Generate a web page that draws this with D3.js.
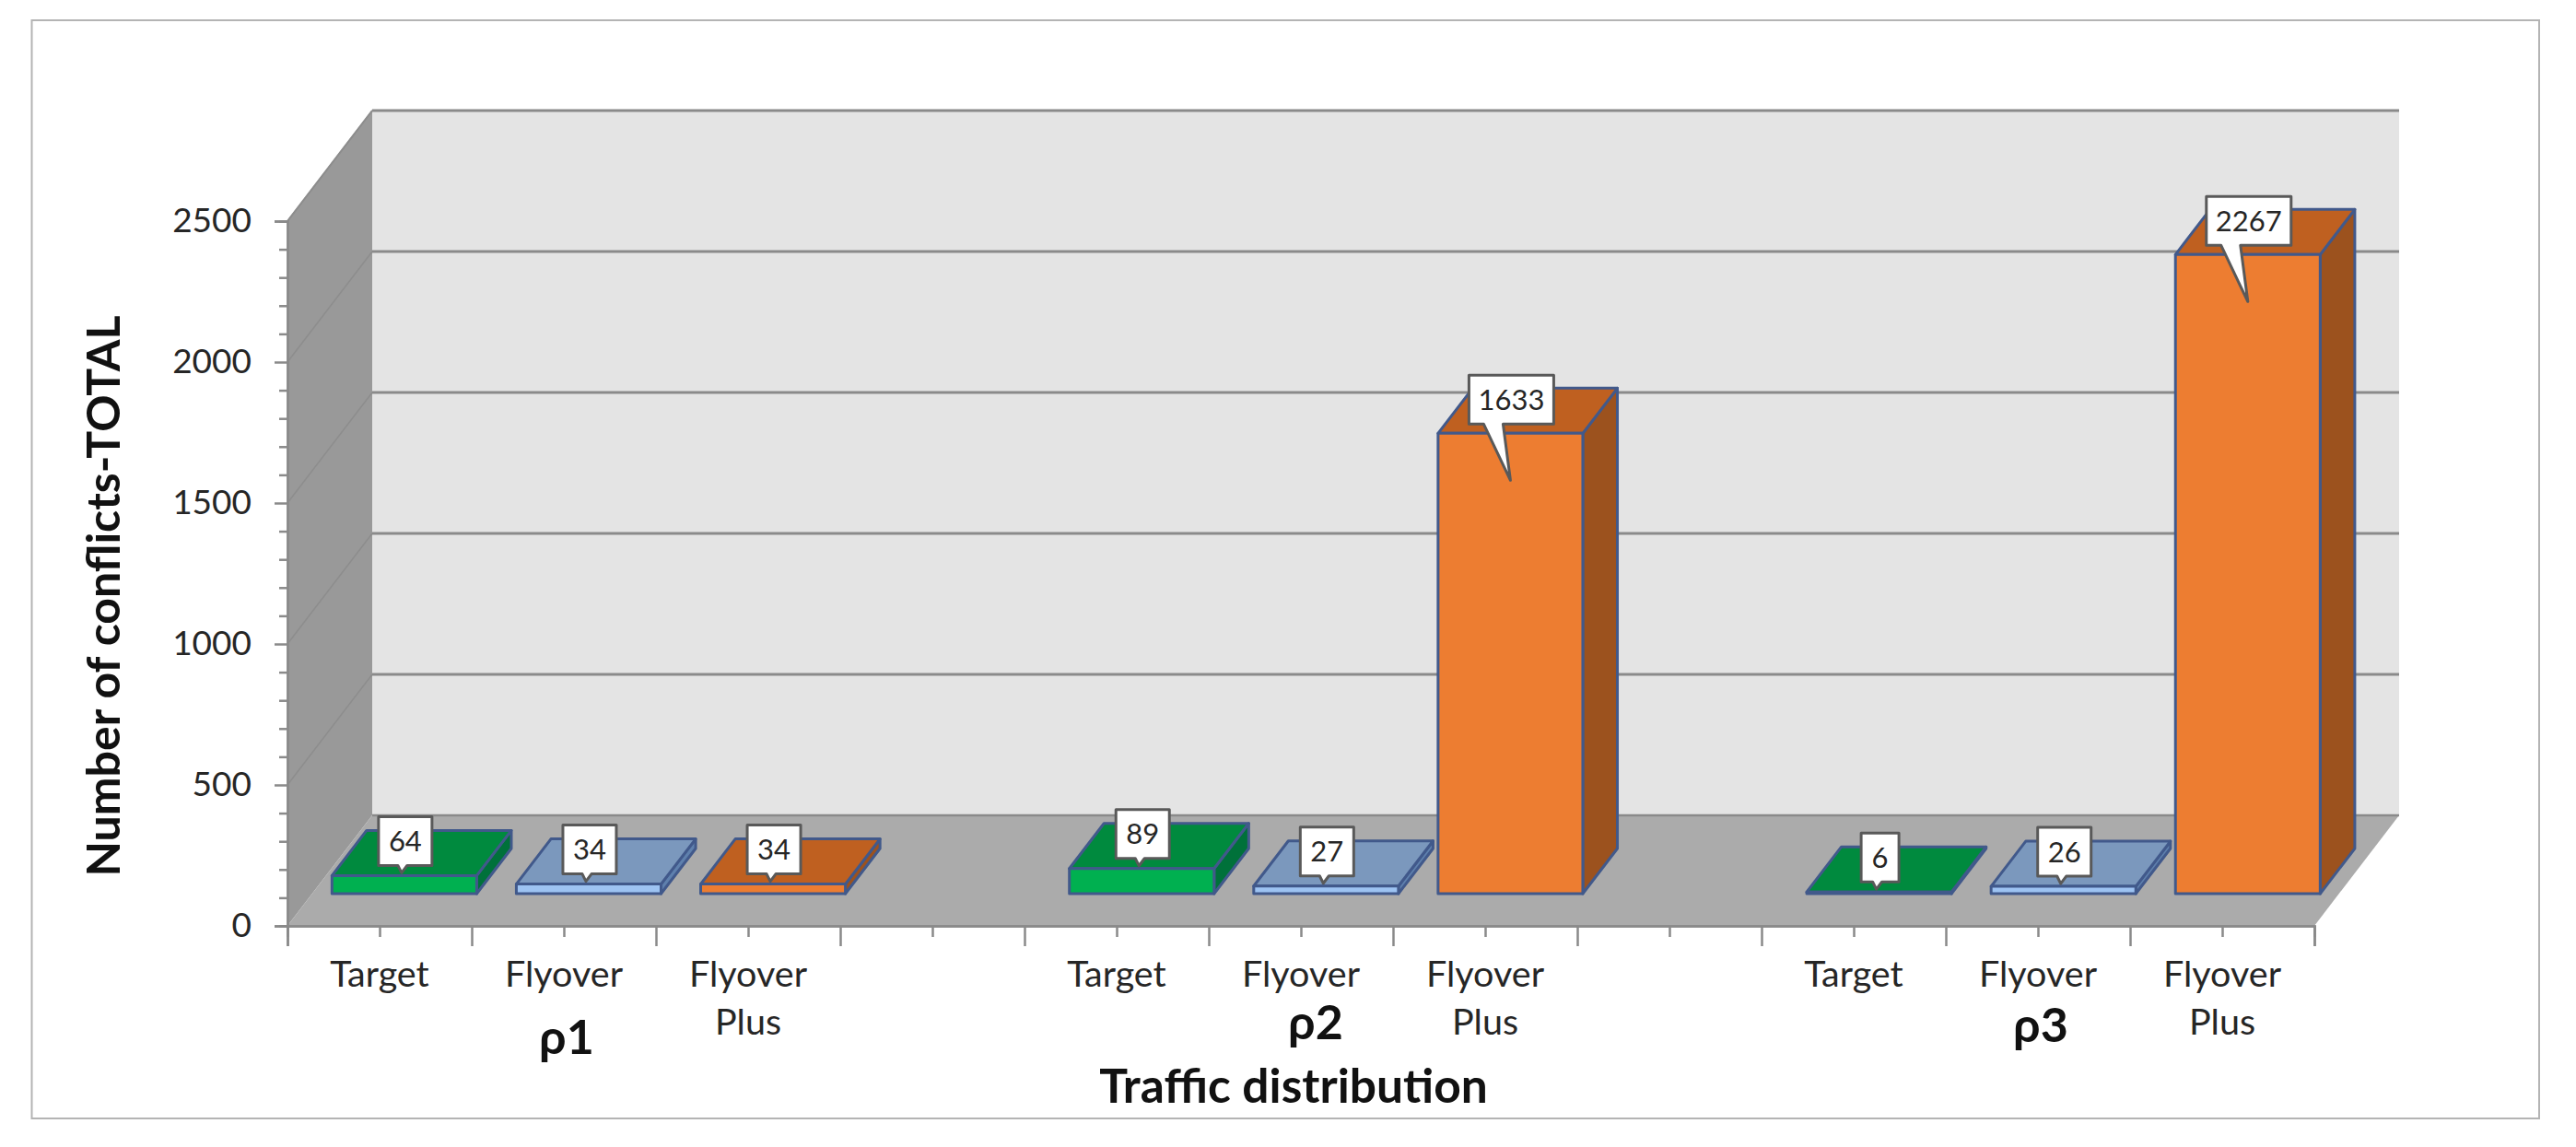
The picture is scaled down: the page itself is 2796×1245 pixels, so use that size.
<!DOCTYPE html>
<html><head><meta charset="utf-8">
<script src="https://cdn.jsdelivr.net/npm/d3@7/dist/d3.min.js"></script>
<style>html,body{margin:0;padding:0;background:#fff}svg{display:block}text{font-family:Lato,"Open Sans",sans-serif;fill:#262626}</style>
</head><body><svg id="c" width="2796" height="1245"></svg>
<script>
const slots = ["a0","a1","a2","gap1","b0","b1","b2","gap2","c0","c1","c2"];
const categoryNames = ["Target","Flyover","Flyover Plus","","Target","Flyover","Flyover Plus","","Target","Flyover","Flyover Plus"];
const seriesIndex = [0,1,2,null,0,1,2,null,0,1,2];
const values = [64,34,34,null,89,27,1633,null,6,26,2267];
const yTicks = [0,500,1000,1500,2000,2500];
const yMinorTicks = [100,200,300,400,600,700,800,900,1100,1200,1300,1400,1600,1700,1800,1900,2100,2200,2300,2400];
const groupLabels = ["ρ1","ρ2","ρ3"];
const faceColors = [
  {front:"#00b050",top:"#008a3e",side:"#00713a"},
  {front:"#9dc3f2",top:"#7b98bd",side:"#5f80ad"},
  {front:"#ed7d31",top:"#bf6020",side:"#9c521e"}
];

const W=2796,H=1245;
const x0=312,x1=2512,y0=1005,y2500=240,dx=92,dy=-120;
const svg=d3.select("#c");
const y=d3.scaleLinear().domain([0,2500]).range([y0,y2500]);
const xBand=d3.scaleBand().domain(slots).range([x0,x1+1]).paddingInner(0.215).paddingOuter(0.1075);
const xPos=d3.scaleLinear().domain([0,11]).range([x0,x1]);
const line=d3.line();
const proj=(x,yy,d)=>[x+dx*d,yy+dy*d];
const poly=(pts,fill,stroke,sw)=>svg.append("path").attr("d",line(pts)+"Z").attr("fill",fill).attr("stroke",stroke||"none").attr("stroke-width",sw||0).attr("stroke-linejoin","round");

// frame
svg.append("rect").attr("x",34.5).attr("y",22).attr("width",2721.5).attr("height",1192).attr("fill","#fff").attr("stroke","#b4b4b4").attr("stroke-width",2);

// walls
poly([proj(x0,y0,1),[x1+dx,y0+dy],[x1+dx,y2500+dy],proj(x0,y2500,1)],"#e4e4e4");
poly([[x0,y0],proj(x0,y0,1),proj(x0,y2500,1),[x0,y2500]],"#999999");
poly([[x0,y0],[x1,y0],[x1+dx,y0+dy],proj(x0,y0,1)],"#ababab");

// grid
yTicks.forEach(t=>{
  if(t>0) svg.append("path").attr("d",line([[x0,y(t)],proj(x0,y(t),1)])).attr("stroke","#8d8d8d").attr("stroke-width",1.5).attr("fill","none");
  svg.append("path").attr("d",line([proj(x0,y(t),1),[x1+dx,y(t)+dy]])).attr("stroke","#8a8a8a").attr("stroke-width",t===0?2.5:3).attr("fill","none");
});
svg.append("path").attr("d",line([[x0,y2500],proj(x0,y2500,1)])).attr("stroke","#8d8d8d").attr("stroke-width",2).attr("fill","none");

// axes
const yAxisMinor=d3.axisLeft(y).tickValues(yMinorTicks).tickSize(9).tickFormat("");
const yAxisMajor=d3.axisLeft(y).tickValues(yTicks).tickSize(14).tickPadding(25).tickFormat(d3.format("d"));
const gyMinor=svg.append("g").attr("transform",`translate(${x0},0)`).call(yAxisMinor);
const gy=svg.append("g").attr("transform",`translate(${x0},0)`).call(yAxisMajor);
[gyMinor,gy].forEach(g=>{g.selectAll("path,line").attr("stroke","#8a8a8a").attr("stroke-width",2.5);});
gy.selectAll("text").attr("font-size",37).style("font-family","Lato,sans-serif").attr("fill","#262626");

const xMinor=d3.range(0,11).map(i=>i+0.5), xMajor=d3.range(0,12);
const gxMinor=svg.append("g").attr("transform",`translate(0,${y0})`).call(d3.axisBottom(xPos).tickValues(xMinor).tickSize(12).tickFormat(""));
const gxMajor=svg.append("g").attr("transform",`translate(0,${y0})`).call(d3.axisBottom(xPos).tickValues(xMajor).tickSize(22).tickFormat(""));
[gxMinor,gxMajor].forEach(g=>{g.selectAll("path,line").attr("stroke","#8a8a8a").attr("stroke-width",2.5);});

// category labels
categoryNames.forEach((name,i)=>{
  if(!name) return;
  const cx=xPos(i+0.5);
  name.split(" ").forEach((w,k)=>{
    svg.append("text").attr("x",cx).attr("y",1071+k*52).attr("text-anchor","middle").attr("font-size",39.5).text(w);
  });
});

// bars
const depthFront=35/120, depthBack=84/120;
const outline="#41598b";
slots.forEach((s,i)=>{
  if(values[i]==null) return;
  const c=faceColors[seriesIndex[i]];
  const l=xBand(s), r=l+xBand.bandwidth(), t=y(values[i]), b=y(0);
  const sw=3;
  poly([proj(r,b,depthFront),proj(r,b,depthBack),proj(r,t,depthBack),proj(r,t,depthFront)],c.side,outline,sw);
  poly([proj(l,t,depthFront),proj(r,t,depthFront),proj(r,t,depthBack),proj(l,t,depthBack)],c.top,outline,sw);
  poly([proj(l,b,depthFront),proj(r,b,depthFront),proj(r,t,depthFront),proj(l,t,depthFront)],c.front,outline,sw);
});

// callouts
slots.forEach((s,i)=>{
  const v=values[i];
  if(v==null) return;
  const cx=xBand(s)+xBand.bandwidth()/2+dx*depthFront;
  const top=proj(0,y(v),depthFront)[1];
  const txt=String(v);
  const w=txt.length*17+24, tall=v>1000;
  const bx=cx-w/2+1, by=top-(tall?63:64), bh=53;
  const tipY=tall?top+51:top-3, tipX=cx+(tall?0:-3);
  const baseL=tall?cx-29:cx-7, baseR=tall?cx-8:cx+3;
  const p=[[bx,by],[bx+w,by],[bx+w,by+bh],[baseR,by+bh],[tipX,tipY],[baseL,by+bh],[bx,by+bh]];
  poly(p,"#ffffff","#595959",3);
  svg.append("text").attr("x",bx+w/2).attr("y",by+bh/2+11).attr("text-anchor","middle").attr("font-size",31).text(txt);
});

// group labels and titles
[[615,1144],[1428,1128],[2215,1131]].forEach((p,i)=>{
  svg.append("text").attr("x",p[0]).attr("y",p[1]).attr("text-anchor","middle").attr("font-size",52).attr("font-weight",700).style("fill","#111").text(groupLabels[i]);
});
svg.append("text").attr("x",1404).attr("y",1197).attr("text-anchor","middle").attr("font-size",51.5).attr("font-weight",700).text("Traffic distribution").style("fill","#111");
svg.append("text").attr("transform","translate(130,647) rotate(-90)").attr("text-anchor","middle").attr("font-size",50).attr("font-weight",700).text("Number of conflicts-TOTAL").style("fill","#111");
</script></body></html>
